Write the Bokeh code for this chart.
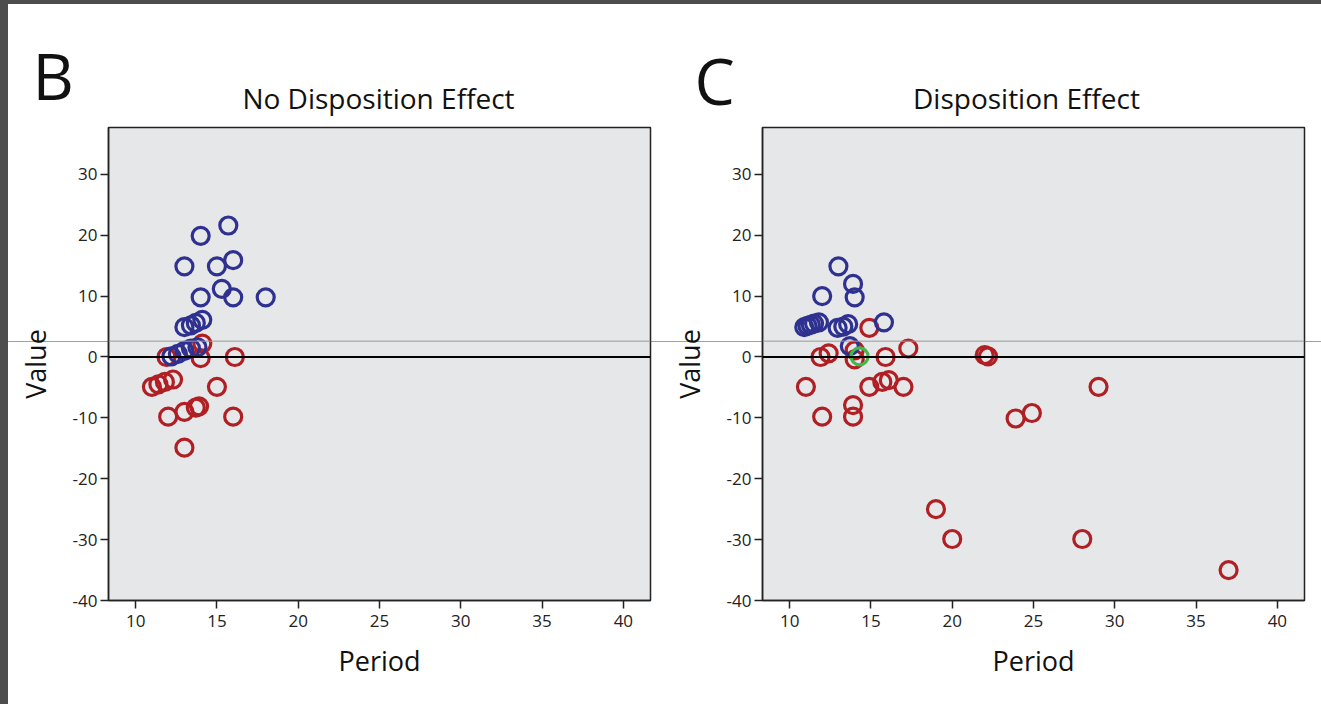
from bokeh.plotting import figure
from bokeh.layouts import row, column
from bokeh.models import Span, FixedTicker, ColumnDataSource, Spacer, Range1d
from bokeh.core.properties import value
from bokeh.embed import file_html
from bokeh.resources import INLINE

# ---------------- data ----------------
# Panel B: No Disposition Effect
b_blue_period = [15.7, 14.0, 13.0, 15.0, 16.0, 15.3, 14.0, 16.0, 18.0,
                 13.0, 13.4, 13.7, 14.1, 12.2, 12.6, 13.0, 13.4, 13.8]
b_blue_value = [21.6, 19.9, 14.9, 14.9, 15.9, 11.2, 9.8, 9.8, 9.8,
                4.9, 5.2, 5.6, 6.1, 0.1, 0.5, 1.0, 1.4, 1.6]
b_red_period = [14.1, 14.0, 16.1, 11.9, 11.0, 11.4, 11.8, 12.3, 15.0,
                12.0, 13.0, 13.7, 13.9, 16.0, 13.0]
b_red_value = [2.2, -0.2, 0.0, 0.0, -4.9, -4.5, -4.1, -3.7, -4.9,
               -9.8, -9.0, -8.3, -8.1, -9.8, -14.9]
b_green_period = []
b_green_value = []

# Panel C: Disposition Effect
c_blue_period = [13.0, 13.9, 14.0, 12.0, 10.9, 11.1, 11.3, 11.5, 11.8,
                 12.95, 13.3, 13.6, 15.8, 13.7]
c_blue_value = [14.9, 12.0, 9.8, 10.0, 4.9, 5.1, 5.3, 5.5, 5.7,
                4.8, 5.0, 5.4, 5.7, 1.8]
c_red_period = [14.9, 11.9, 12.4, 14.0, 14.0, 15.9, 17.3, 22.0, 22.2,
                11.0, 14.9, 15.7, 16.1, 17.0, 13.9, 13.9, 12.0,
                29.0, 23.9, 24.9, 19.0, 20.0, 28.0, 37.0]
c_red_value = [4.8, 0.0, 0.6, 1.1, -0.4, 0.0, 1.4, 0.3, 0.1,
               -4.9, -4.9, -4.1, -3.8, -4.9, -7.9, -9.8, -9.8,
               -4.9, -10.1, -9.2, -25.0, -29.9, -29.9, -35.0]
c_green_period = [14.3]
c_green_value = [0.1]

panel_letters = ["B", "C"]
panel_titles = ["No Disposition Effect", "Disposition Effect"]

x_ticks = [10, 15, 20, 25, 30, 35, 40]
y_ticks = [-40, -30, -20, -10, 0, 10, 20, 30]

FONT = "Open Sans"
BLUE = "#2f3190"
RED = "#b01f24"
GREEN = "#3dba4a"
ARTIFACT_Y = 2.6  # thin grey screen line in the source image
X_RANGE = (8.33, 41.67)
Y_RANGE = (-40, 37.7)

HEAD_H = 113
HEAD_W = 1313

# header: panel letters and titles drawn as text in a bare pixel-space strip
head = figure(width=HEAD_W, height=HEAD_H, x_range=Range1d(0, HEAD_W),
              y_range=Range1d(HEAD_H, 0), x_axis_type=None, y_axis_type=None,
              title=None, output_backend="svg", toolbar_location=None,
              min_border=0, min_border_left=0, min_border_right=0,
              min_border_top=0, min_border_bottom=0)
head.outline_line_color = None
head.background_fill_alpha = 0
head.border_fill_alpha = 0
head.xgrid.visible = False
head.ygrid.visible = False
head.text(x=[24, 686], y=[71, 76], text=panel_letters, text_font=value(FONT),
          text_font_size=value("64px"), text_baseline=value("middle"),
          text_align=value("left"), text_color="#111111")
head.text(x=[370, 1018], y=[93, 93], text=panel_titles, text_font=value(FONT),
          text_font_size=value("28px"), text_baseline=value("middle"),
          text_align=value("center"), text_color="#111111")


def make_panel(bx, by, rx, ry, gx, gy, width, bl, br):
    p = figure(width=width, height=700 - HEAD_H, x_range=X_RANGE, y_range=Y_RANGE,
               output_backend="svg", toolbar_location=None,
               min_border_left=bl, min_border_right=br,
               min_border_top=10, min_border_bottom=104)
    p.border_fill_alpha = 0
    p.background_fill_color = "#e6e7e8"
    p.outline_line_color = "#222222"
    p.outline_line_width = 1.5
    p.xgrid.visible = False
    p.ygrid.visible = False

    for ax in (p.xaxis[0], p.yaxis[0]):
        ax.axis_line_color = "#222222"
        ax.axis_line_width = 1.5
        ax.major_tick_line_color = "#222222"
        ax.major_tick_line_width = 1.5
        ax.major_tick_out = 8
        ax.major_tick_in = 0
        ax.minor_tick_line_color = None
        ax.major_label_text_font = FONT
        ax.major_label_text_font_size = "17px"
        ax.major_label_text_color = "#222222"
        ax.axis_label_text_font = FONT
        ax.axis_label_text_font_size = "27px"
        ax.axis_label_text_font_style = "normal"
        ax.axis_label_text_color = "#111111"

    p.xaxis.ticker = FixedTicker(ticks=x_ticks)
    p.yaxis.ticker = FixedTicker(ticks=y_ticks)
    p.xaxis.major_label_overrides = {t: str(t) for t in x_ticks}
    p.yaxis.major_label_overrides = {t: str(t) for t in y_ticks}
    p.xaxis.axis_label = "Period"
    p.yaxis.axis_label = "Value"
    p.xaxis.major_label_standoff = 6
    p.yaxis.major_label_standoff = 3
    p.xaxis.axis_label_standoff = 12
    p.yaxis.axis_label_standoff = 16

    p.add_layout(Span(location=0, dimension="width", line_color="black", line_width=2.2))
    p.add_layout(Span(location=ARTIFACT_Y, dimension="width", line_color="#9a9a9a", line_width=1))

    kw = dict(size=17, fill_color=None, line_width=3.2)
    p.scatter("x", "y", source=ColumnDataSource(dict(x=rx, y=ry)), line_color=RED, **kw)
    p.scatter("x", "y", source=ColumnDataSource(dict(x=bx, y=by)), line_color=BLUE, **kw)
    if gx:
        p.scatter("x", "y", source=ColumnDataSource(dict(x=gx, y=gy)), line_color=GREEN, **kw)
    return p


p1 = make_panel(b_blue_period, b_blue_value, b_red_period, b_red_value,
                b_green_period, b_green_value, 657, 100, 15)
p2 = make_panel(c_blue_period, c_blue_value, c_red_period, c_red_value,
                c_green_period, c_green_value, 656, 97, 17)

DARK = "#4d4d4d"
grad = ("linear-gradient(to bottom, #ffffff 0px, #ffffff 224px, #a0a0a0 224px, "
        "#a0a0a0 225px, #ffffff 225px, #ffffff 100%)")
top_bar = Spacer(width=1321, height=4, styles={"background-color": DARK})
head_row = row(Spacer(width=8, height=HEAD_H, styles={"background-color": DARK}), head)
body = row(Spacer(width=8, height=700 - HEAD_H, styles={"background-color": DARK}),
           p1, p2, styles={"background": grad})
layout = column(top_bar, head_row, body, styles={"background-color": "#ffffff"})

open("out.html", "w").write(file_html(layout, INLINE))
